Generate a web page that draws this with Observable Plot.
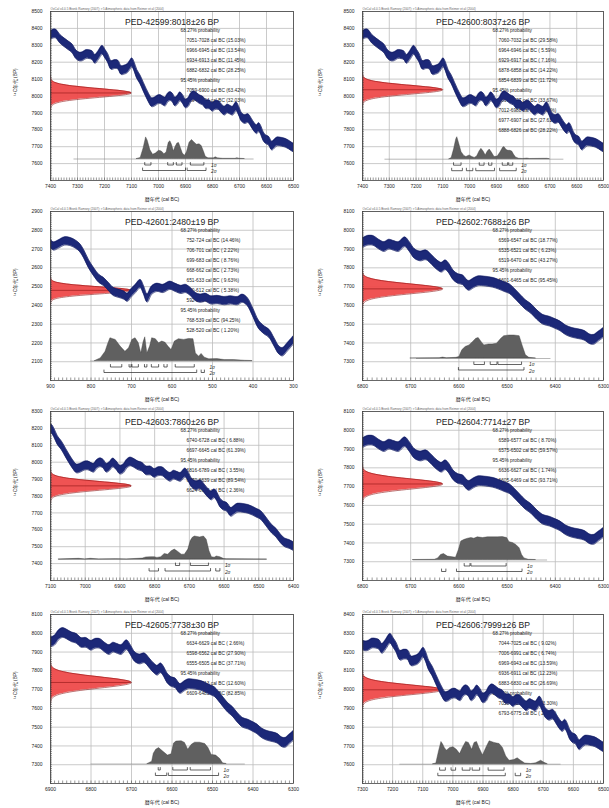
<!DOCTYPE html>
<html><head><meta charset="utf-8">
<script src="https://cdn.jsdelivr.net/npm/d3@7"></script>
<script src="https://cdn.jsdelivr.net/npm/@observablehq/plot@0.6"></script>
<style>
html,body{margin:0;padding:0;background:#fff;}
body{width:609px;height:808px;overflow:hidden;position:relative;}
.panel{position:absolute;width:304px;}
.panel svg{overflow:visible;display:block;}
</style></head><body>
<script>
// ---------- DATA ----------
const labIds = ["PED-42599","PED-42600","PED-42601","PED-42602","PED-42603","PED-42604","PED-42605","PED-42606"];
const bpValues = [8018, 8037, 2480, 7688, 7860, 7714, 7738, 7999];
const bpErrors = [26, 26, 19, 26, 26, 27, 30, 26];
const xDomains = [[7400,6500],[7400,6500],[900,300],[6800,6300],[7100,6400],[6800,6300],[6900,6300],[7300,6500]];
const yDomains = [[7500,8500],[7500,8500],[2000,2900],[7200,8100],[7300,8300],[7200,8100],[7200,8100],[7500,8400]];
const headerText = "OxCal v4.0.5 Bronk Ramsey (2007); r:5 Atmospheric data from Reimer et al (2004)";
const xLabel = "暦年代 (cal BC)";
const yLabel = "¹⁴C年代 (BP)";

const ranges68 = [
 [[7051,7028,15.03],[6966,6945,13.54],[6934,6913,11.45],[6882,6832,28.25]],
 [[7060,7032,29.58],[6964,6946,5.59],[6929,6917,7.16],[6878,6858,14.22],[6854,6839,11.72]],
 [[752,724,14.46],[706,701,2.22],[699,683,8.76],[668,662,2.73],[651,633,9.63],[620,612,5.38],[592,545,25.09]],
 [[6569,6547,18.77],[6535,6521,6.23],[6519,6470,43.27]],
 [[6740,6728,6.88],[6697,6645,61.39]],
 [[6589,6577,8.70],[6575,6502,59.57]],
 [[6634,6629,2.66],[6598,6562,27.90],[6555,6505,37.71]],
 [[7044,7025,9.02],[7006,6991,6.74],[6969,6943,13.59],[6936,6911,12.23],[6883,6830,26.69]]
];
const ranges95 = [
 [[7059,6900,63.42],[6894,6824,32.03]],
 [[7067,7027,33.67],[7012,6988,5.95],[6977,6907,27.61],[6888,6826,28.22]],
 [[768,539,94.25],[528,520,1.20]],
 [[6601,6465,95.45]],
 [[6816,6789,3.55],[6770,6639,89.54],[6624,6612,2.36]],
 [[6636,6627,1.74],[6605,6469,93.71]],
 [[6641,6613,12.60],[6609,6485,82.85]],
 [[7050,6826,93.30],[6793,6775,2.15]]
];

// calibration curve (cal BC, BP)
const curveYears = [7400,7390,7380,7365,7350,7335,7320,7305,7292,7280,7268,7256,7245,7235,7222,7208,7198,7188,7175,7162,7150,7138,7126,7115,7106,7098,7090,7080,7068,7056,7046,7036,7025,7014,7003,6992,6982,6975,6967,6957,6948,6939,6930,6920,6910,6900,6890,6880,6870,6860,6848,6836,6824,6812,6800,6790,6778,6766,6755,6745,6735,6725,6712,6702,6692,6680,6668,6656,6645,6636,6628,6620,6612,6602,6592,6580,6570,6560,6545,6530,6518,6505,6495,6485,6474,6462,6450,6438,6425,6412,6400,6390,6378,6365,6352,6340,6328,6320,6312,6300];
const curveBP =    [8358,8368,8368,8338,8318,8300,8282,8245,8232,8235,8247,8246,8240,8218,8242,8272,8250,8225,8182,8188,8185,8152,8155,8163,8182,8198,8175,8130,8098,8055,8020,7988,7962,7966,7978,7980,7970,7966,7986,7998,7990,7966,7975,7997,7980,7955,7962,7990,8003,7995,7980,7972,7950,7950,7935,7945,7945,7925,7912,7925,7918,7912,7938,7910,7875,7862,7868,7842,7815,7802,7815,7795,7762,7742,7735,7705,7718,7730,7728,7722,7712,7698,7688,7665,7635,7604,7582,7550,7524,7515,7502,7490,7468,7455,7448,7440,7420,7418,7432,7455];
const curveSigma = 25;
const curve3Years = [900,892,880,865,850,838,828,818,806,793,780,768,756,744,731,719,710,702,690,678,670,661,650,637,622,605,592,578,566,554,542,530,517,504,488,471,455,438,426,414,400,386,372,360,348,336,327,315,300];
const curve3BP =    [2728,2715,2726,2742,2738,2725,2708,2675,2622,2578,2542,2525,2498,2472,2463,2454,2442,2462,2489,2515,2482,2438,2480,2495,2489,2506,2495,2484,2489,2472,2446,2437,2442,2428,2430,2424,2428,2424,2437,2420,2362,2298,2268,2250,2206,2162,2152,2178,2215];
const curve3Sigma = 21;

// calibrated probability distributions (cal BC, relative probability)
const distYears = [
 [7080,7066,7055,7046,7040,7030,7020,7010,6998,6988,6978,6970,6962,6956,6950,6943,6937,6930,6924,6917,6910,6902,6895,6885,6876,6868,6858,6848,6840,6832,6825,6815,6795,6788,6780,6760,6715,6708,6700,6680],
 [7075,7067,7058,7050,7046,7040,7030,7020,7012,7000,6990,6981,6972,6963,6956,6948,6940,6932,6925,6917,6907,6895,6885,6875,6870,6862,6855,6848,6841,6834,6827,6815,6800,6785,6775,6710,6700],
 [790,776,764,758,752,745,739,727,715,706,698,690,682,676,670,666,661,654,649,640,632,624,616,609,601,593,583,570,558,547,541,533,527,519,508,488,470,447,420,401],
 [6700,6640,6633,6625,6605,6599,6593,6586,6578,6571,6564,6559,6552,6547,6538,6530,6521,6512,6506,6495,6485,6474,6468,6461,6454,6440],
 [7076,7018,7000,6984,6960,6911,6880,6834,6824,6810,6800,6792,6781,6771,6761,6751,6742,6732,6722,6713,6703,6696,6690,6684,6669,6658,6650,6642,6635,6627,6621,6611,6600,6592,6476],
 [6695,6650,6643,6637,6631,6623,6606,6600,6595,6588,6581,6574,6568,6561,6550,6540,6530,6519,6509,6500,6495,6488,6481,6474,6469,6464,6455,6440],
 [6660,6649,6645,6639,6632,6622,6610,6601,6595,6589,6576,6568,6560,6551,6543,6531,6518,6510,6502,6491,6481,6474,6465],
 [7065,7055,7046,7038,7032,7027,7020,7009,6998,6987,6976,6967,6956,6947,6936,6928,6920,6912,6900,6889,6878,6862,6845,6834,6823,6812,6796,6785,6774,6760,6740,6724,6707,6696,6685]
];
const distP = [
 [0,0.05,0.5,1.0,0.85,0.4,0.2,0.25,0.38,0.35,0.22,0.3,0.75,0.82,0.65,0.35,0.55,0.72,0.74,0.5,0.25,0.15,0.3,0.75,0.88,0.78,0.66,0.68,0.6,0.35,0.1,0.03,0.03,0.08,0.03,0.01,0.01,0.04,0.01,0],
 [0,0.05,0.45,0.9,1.0,0.75,0.32,0.15,0.1,0.17,0.1,0.06,0.12,0.35,0.47,0.35,0.17,0.35,0.44,0.3,0.1,0.12,0.3,0.52,0.55,0.42,0.38,0.38,0.35,0.2,0.08,0.02,0.01,0.03,0.01,0.02,0],
 [0,0.11,0.39,0.7,0.96,0.92,0.89,0.61,0.39,0.54,0.89,0.96,0.75,0.32,0.8,1.0,0.32,0.61,0.96,0.92,0.75,0.82,0.77,0.61,0.46,0.82,0.92,0.89,0.93,0.92,0.32,0.18,0.3,0.14,0.07,0.08,0.04,0.04,0.01,0],
 [0,0.01,0.04,0.01,0.03,0.07,0.36,0.5,0.57,0.71,0.86,0.89,0.69,0.57,0.61,0.61,0.64,0.86,0.97,1.0,1.0,0.97,0.57,0.14,0.03,0],
 [0,0.03,0.005,0.03,0.005,0.015,0.005,0.04,0.09,0.1,0.1,0.07,0.1,0.24,0.21,0.36,0.43,0.33,0.21,0.21,0.43,0.8,0.95,1.0,0.96,1.0,0.86,0.36,0.1,0.08,0.13,0.1,0.02,0.01,0],
 [0,0.01,0.07,0.22,0.26,0.15,0.1,0.44,0.81,0.88,0.93,0.96,0.93,0.99,0.96,0.99,0.99,0.99,1.0,0.96,0.78,0.74,0.66,0.51,0.22,0.07,0.01,0],
 [0,0.1,0.45,0.63,0.7,0.55,0.37,0.43,0.9,0.99,1.0,0.93,0.63,0.85,0.94,0.94,0.88,0.7,0.4,0.37,0.22,0.03,0],
 [0,0.03,0.56,0.97,0.85,0.71,0.59,0.71,0.74,0.63,0.44,0.71,0.97,0.93,0.63,0.93,0.97,0.71,0.38,0.71,1.0,0.93,0.88,0.71,0.34,0.15,0.18,0.26,0.15,0.03,0.01,0.04,0.15,0.06,0]
];
// extent of each calibration run (baseline), cal BC
const distSpans = [[7313,6646],[7316,6648],[801,401],[6688,6409],[7076,6476],[6695,6416],[6800,6419],[7176,6641]];

// ---------- LAYOUT ----------
const W = 304, H = 206, MT = 11, FRAME_H = 169;
const rowTops = [0, 200, 400, 603];
const colLefts = [0, 305];
const colML = [50, 57], colMR = [11, 6];
const distBasePx = [21.5, 21.3, 19.5, 22, 21, 20.5, 19.5, 19.3];
const distAmpPx = [21.6, 22, 23.7, 23, 23, 22.9, 22.7, 22.9];
const FONT = "'Liberation Sans', Arial, 'Noto Sans CJK JP', sans-serif";

function fmtPct(p){ const s = p.toFixed(2); return p < 10 ? " " + s : s; }

function makePanel(i) {
  const col = i % 2, row = Math.floor(i / 2);
  const [xa, xb] = xDomains[i];
  const [ya, yb] = yDomains[i];
  const mL = colML[col], mR = colMR[col];
  const frameW = W - mL - mR;
  const pxPerBP = FRAME_H / (yb - ya);
  const pxPerYr = frameW / (xa - xb);
  const bp = px => px / pxPerBP;
  const yr = px => px / pxPerYr;

  const isP3 = i === 2;
  const cY = isP3 ? curve3Years : curveYears;
  const cB = isP3 ? curve3BP : curveBP;
  const sg = isP3 ? curve3Sigma : curveSigma;
  const curve = cY.map((y, k) => ({year: y, bp: cB[k]})).filter(d => d.year <= xa + 30 && d.year >= xb - 30);

  const mu = bpValues[i], s = bpErrors[i];
  const gw = (xa - xb) / 3;
  const gauss = d3.range(-40, 41).map(k => k / 10).map(z => ({bp: mu + z * s, x: xa - gw * Math.exp(-z * z / 2)}));

  const base = ya + bp(distBasePx[i]);
  const amp = bp(distAmpPx[i]);
  const dist = distYears[i].map((y, k) => ({year: y, p: distP[i][k]}));
  const row1 = base - bp(6), row2 = base - bp(11.5), tk = bp(2.5);
  const brackets = [];
  ranges68[i].forEach((r, k) => {
    const id = "a" + k;
    brackets.push({id, x: r[0], y: row1 + tk}, {id, x: r[0], y: row1}, {id, x: r[1], y: row1}, {id, x: r[1], y: row1 + tk});
  });
  ranges95[i].forEach((r, k) => {
    const id = "b" + k;
    brackets.push({id, x: r[0], y: row2 + tk}, {id, x: r[0], y: row2}, {id, x: r[1], y: row2}, {id, x: r[1], y: row2 + tk});
  });
  const sigX = d3.min(ranges95[i], r => r[1]);
  const sigLabels = [{x: sigX, y: row1, t: "1σ"}, {x: sigX, y: row2 - bp(1), t: "2σ"}];

  const lines = [{t: "68.27% probability", ind: 0}];
  ranges68[i].forEach(r => lines.push({t: `${r[0]}-${r[1]} cal BC (${fmtPct(r[2])}%)`, ind: 6}));
  lines.push({t: "95.45% probability", ind: 0});
  ranges95[i].forEach(r => lines.push({t: `${r[0]}-${r[1]} cal BC (${fmtPct(r[2])}%)`, ind: 6}));
  const textMarks = lines.map((l, j) => Plot.text([l.t], {
    text: d => d, frameAnchor: "top-left", dx: 130 + l.ind, dy: 17 + j * 10,
    textAnchor: "start", fontSize: 4.8, fill: "#222"
  }));

  const xTicks = d3.range(xb, xa + 1, 100);
  const yTicks = d3.range(ya + 100, yb + 1, 100);

  const svg = Plot.plot({
    width: W, height: H,
    marginLeft: mL, marginRight: mR, marginTop: MT, marginBottom: H - MT - FRAME_H,
    style: {fontFamily: FONT, fontSize: "5px", color: "#222", background: "transparent", overflow: "visible"},
    x: {domain: [xa, xb], ticks: xTicks, tickFormat: d => String(d), tickSize: 0, tickPadding: 4, label: null},
    y: {domain: [ya, yb], ticks: yTicks, tickFormat: d => String(d), tickSize: 0, tickPadding: 8, label: null},
    marks: [
      Plot.ruleX(xTicks, {x: d => d, stroke: "#bcbcbc", strokeWidth: 0.8}),
      Plot.ruleY(yTicks, {y: d => d, stroke: "#bcbcbc", strokeWidth: 0.8}),
      ...textMarks,
      Plot.areaX(gauss, {y: "bp", x1: () => xa, x2: "x", fill: "#ee4a4a", fillOpacity: 0.95, clip: true}),
      Plot.line(gauss, {x: "x", y: "bp", stroke: "#8e1414", strokeWidth: 0.6, clip: true}),
      Plot.ruleY([mu], {y: d => d, x1: xa, x2: xa - gw, stroke: "#8e1414", strokeWidth: 0.6}),
      Plot.areaY(curve, {x: "year", y1: d => d.bp - sg, y2: d => d.bp + sg, fill: "#1c2878", stroke: "#1c2878", strokeWidth: 0.5, curve: "catmull-rom", clip: true}),
      Plot.line(curve, {x: "year", y: d => d.bp + sg, stroke: "#121b5e", strokeWidth: 0.6, curve: "catmull-rom", clip: true}),
      Plot.line(curve, {x: "year", y: d => d.bp - sg, stroke: "#121b5e", strokeWidth: 0.6, curve: "catmull-rom", clip: true}),
      Plot.ruleY([base], {y: d => d, x1: distSpans[i][0], x2: distSpans[i][1], stroke: "#888", strokeWidth: 0.6}),
      Plot.areaY(dist, {x: "year", y1: () => base, y2: d => base + amp * d.p, fill: "#606060", stroke: "#3a3a3a", strokeWidth: 0.4}),
      Plot.line(brackets, {x: "x", y: "y", z: "id", stroke: "#222", strokeWidth: 0.7}),
      Plot.text(sigLabels, {x: "x", y: "y", text: "t", dx: 5, textAnchor: "start", fontSize: 4.8, fontStyle: "italic", fill: "#222"}),
      Plot.text([`${labIds[i]}:${mu}±${s} BP`], {text: d => d, frameAnchor: "top", dy: 7, fontSize: 8.6, fill: "#222"}),
      Plot.text([headerText], {text: d => d, frameAnchor: "top-left", dy: -4, fontSize: 3.1, fill: "#666", textAnchor: "start"}),
      Plot.text([yLabel], {text: d => d, frameAnchor: "left", dx: -(mL - 15), rotate: -90, fontSize: 4.8, fill: "#222"}),
      Plot.text([xLabel], {text: d => d, frameAnchor: "bottom", dy: 20, dx: -10, fontSize: 5, fill: "#222"}),
      Plot.ruleX(d3.range(xb, xa + 1, 10), {x: d => d, y1: ya, y2: ya + bp(2.5), stroke: "#333", strokeWidth: 0.5}),
      Plot.ruleY(d3.range(ya, yb + 1, 10), {y: d => d, x1: xa, x2: xa - yr(2), stroke: "#333", strokeWidth: 0.5}),
      Plot.frame({stroke: "#444", strokeWidth: 0.8})
    ]
  });
  const div = document.createElement("div");
  div.className = "panel";
  div.style.left = colLefts[col] + "px";
  div.style.top = rowTops[row] + "px";
  div.appendChild(svg);
  document.body.appendChild(div);
}

for (let i = 0; i < 8; i++) makePanel(i);
</script>
</body></html>
